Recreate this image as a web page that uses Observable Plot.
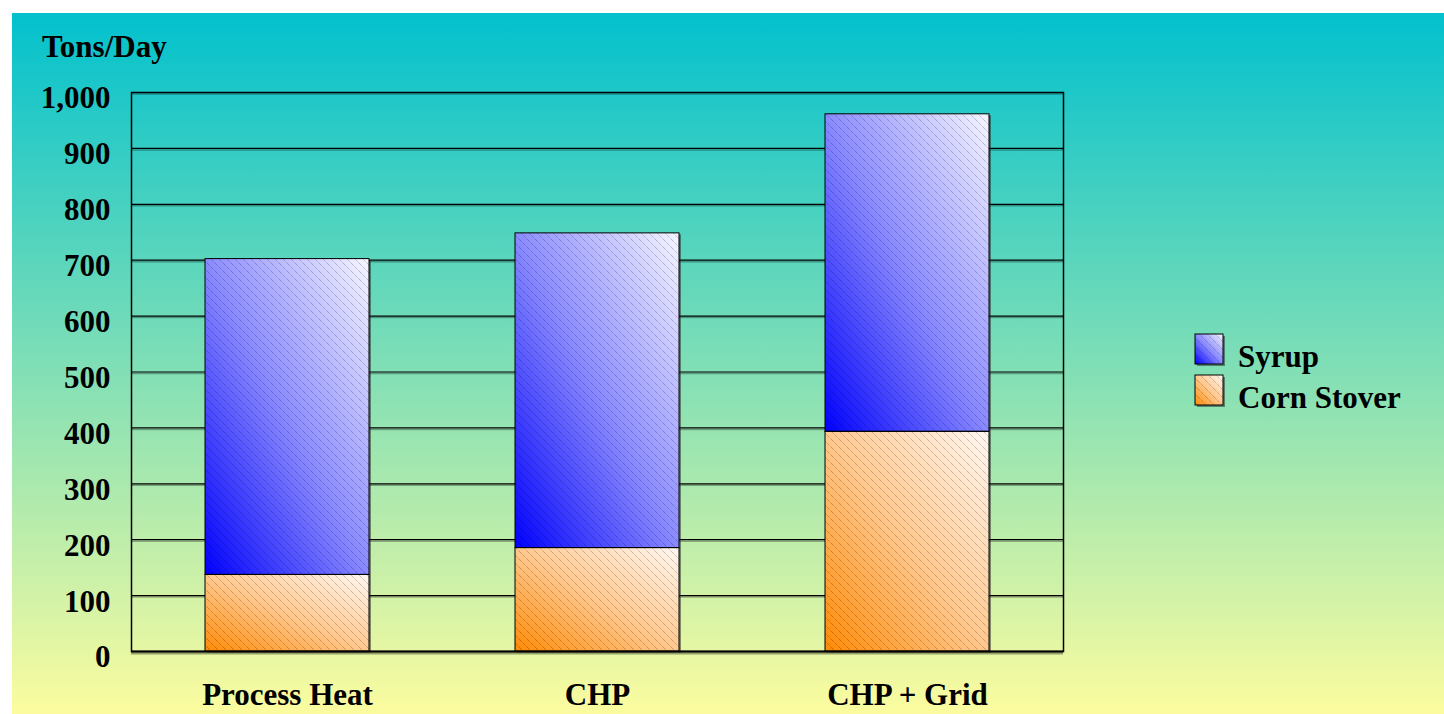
<!DOCTYPE html>
<html><head><meta charset="utf-8">
<script src="https://cdn.jsdelivr.net/npm/d3@7"></script>
<script src="https://cdn.jsdelivr.net/npm/@observablehq/plot@0.6"></script>
<style>
body{margin:0;background:#fff;width:1444px;height:714px;overflow:hidden;font-family:"Liberation Serif","Times New Roman",serif;}
#bg{position:absolute;left:12px;top:13px;width:1432px;height:701px;background:linear-gradient(to bottom,#02C1CD,#FCFC9F);}
#chart{position:absolute;left:0;top:0;}
#title{position:absolute;left:42px;top:31px;font-weight:bold;font-size:31px;line-height:31px;color:#000;}
#legend{position:absolute;left:1190px;top:325px;}
#defs{position:absolute;left:0;top:0;width:0;height:0;}
</style></head><body>
<svg id="defs" width="0" height="0">
  <defs>
    <linearGradient id="gBlue" x1="0" y1="1" x2="1" y2="0">
      <stop offset="0" stop-color="#0000FF"/>
      <stop offset="0.5" stop-color="#8A8AFF"/>
      <stop offset="1" stop-color="#F6F6FF"/>
    </linearGradient>
    <linearGradient id="gOrange" x1="0" y1="1" x2="1" y2="0">
      <stop offset="0" stop-color="#FF8A05"/>
      <stop offset="0.5" stop-color="#FFC88E"/>
      <stop offset="1" stop-color="#FFF8F2"/>
    </linearGradient>
    <pattern id="hatch" patternUnits="userSpaceOnUse" width="8" height="8">
      <path d="M0,0L8,8M-2,6L2,10M6,-2L10,2" stroke="#000" stroke-opacity="0.35" stroke-width="0.9" stroke-dasharray="1 1"/>
    </pattern>
  </defs>
</svg>
<div id="bg"></div>
<div id="chart"></div>
<div id="title">Tons/Day</div>
<div id="legend"></div>
<script>
const categories = ["Process Heat", "CHP", "CHP + Grid"];
const series = ["Corn Stover", "Syrup"];
const cornStover = [137, 185, 393];
const syrup = [565, 563, 568];
const yTicks = [0, 100, 200, 300, 400, 500, 600, 700, 800, 900, 1000];
const seriesFills = ["url(#gOrange)", "url(#gBlue)"];
const legendOrder = ["Syrup", "Corn Stover"];

const rows = categories.flatMap((c, i) => [
  {category: c, series: "Corn Stover", value: cornStover[i]},
  {category: c, series: "Syrup", value: syrup[i]}
]);

const chart = Plot.plot({
  width: 1444,
  height: 714,
  marginLeft: 131,
  marginRight: 381,
  marginTop: 92,
  marginBottom: 63,
  style: {background: "transparent", fontFamily: "Liberation Serif, Times New Roman, serif", fontSize: "31px", fontWeight: "bold", color: "#000", overflow: "visible"},
  x: {domain: categories, paddingInner: 0.47, paddingOuter: 0.235, label: null},
  y: {domain: [0, 1000], label: null},
  color: {type: "ordinal", domain: series, range: seriesFills},
  marks: [
    Plot.ruleY(yTicks.slice(1), {stroke: "#000", strokeOpacity: 0.3, strokeWidth: 1.5, dy: 1.5}),
    Plot.ruleY(yTicks.slice(1), {stroke: "#000", strokeWidth: 1.2}),
    Plot.frame({stroke: "#000", strokeWidth: 1.5}),
    Plot.barY(rows, Plot.stackY({x: "category", y: "value", fill: "#222", fillOpacity: 0.5, dx: 2, dy: 1.5})),
    Plot.barY(rows, Plot.stackY({x: "category", y: "value", fill: "series"})),
    Plot.barY(rows, Plot.stackY({x: "category", y: "value", fill: "url(#hatch)", stroke: "#000", strokeWidth: 1})),
    Plot.ruleY([0], {stroke: "#000", strokeOpacity: 0.35, strokeWidth: 2, dy: 2}),
    Plot.ruleY([0], {stroke: "#000", strokeWidth: 2.2}),
    Plot.axisY({ticks: yTicks, tickFormat: d3.format(","), tickSize: 0, tickPadding: 21, dy: 6, fontWeight: "bold"}),
    Plot.axisX({tickSize: 0, tickPadding: 31, fontWeight: "bold"})
  ]
});
document.getElementById("chart").appendChild(chart);

// legend
const lg = d3.select("#legend").append("svg").attr("width", 254).attr("height", 95)
  .style("overflow", "visible");
legendOrder.forEach((s, i) => {
  const y = 9 + i * 41;
  const fill = seriesFills[series.indexOf(s)];
  lg.append("rect").attr("x", 7).attr("y", y + 2).attr("width", 28).attr("height", 30).attr("fill", "#222").attr("fill-opacity", 0.5);
  lg.append("rect").attr("x", 5).attr("y", y).attr("width", 28).attr("height", 30).attr("fill", fill);
  lg.append("rect").attr("x", 5).attr("y", y).attr("width", 28).attr("height", 30).attr("fill", "url(#hatch)").attr("stroke", "#000").attr("stroke-width", 1);
  lg.append("text").attr("x", 48).attr("y", y + 33).text(s)
    .attr("font-family", "Liberation Serif, Times New Roman, serif").attr("font-size", 31).attr("font-weight", "bold").attr("fill", "#000");
});
</script>
</body></html>
